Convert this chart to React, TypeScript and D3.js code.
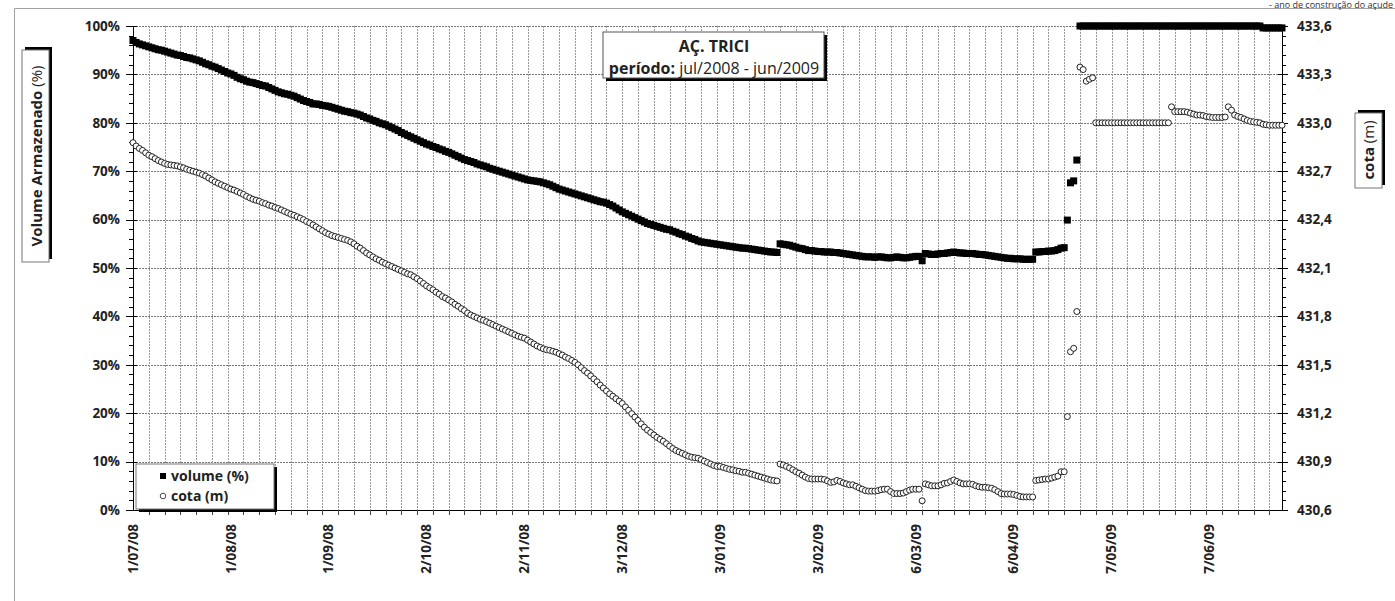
import React from "react";
import * as d3 from "d3";

const startDate = new Date(Date.UTC(2008, 6, 1));

// volume armazenado (%), daily from 1/07/08
const volume: number[] = [
  97.0,96.6,96.3,96.1,95.9,95.7,95.5,95.3,95.1,95.0,
  94.8,94.6,94.4,94.2,94.0,93.9,93.7,93.5,93.4,93.2,
  93.0,92.8,92.5,92.2,92.0,91.7,91.5,91.2,90.9,90.6,
  90.3,90.1,89.8,89.4,89.1,88.9,88.6,88.4,88.3,88.1,
  87.9,87.7,87.6,87.3,87.0,86.7,86.4,86.2,86.0,85.9,
  85.7,85.5,85.2,84.9,84.6,84.4,84.2,83.9,83.9,83.8,
  83.6,83.5,83.4,83.2,83.0,82.8,82.6,82.4,82.3,82.1,
  82.0,81.8,81.6,81.3,81.0,80.8,80.5,80.3,80.0,79.8,
  79.6,79.3,79.0,78.7,78.4,78.0,77.7,77.4,77.1,76.8,
  76.5,76.2,75.9,75.6,75.4,75.1,74.9,74.6,74.4,74.1,
  73.9,73.6,73.3,73.0,72.7,72.4,72.2,72.0,71.8,71.5,
  71.3,71.1,70.9,70.6,70.4,70.2,70.0,69.8,69.6,69.4,
  69.2,69.0,68.8,68.6,68.4,68.2,68.1,68.0,67.9,67.8,
  67.6,67.4,67.2,66.9,66.6,66.3,66.1,65.9,65.7,65.5,
  65.3,65.1,64.9,64.7,64.5,64.3,64.1,63.9,63.7,63.6,
  63.4,63.1,62.8,62.4,62.0,61.6,61.3,61.0,60.7,60.4,
  60.1,59.8,59.5,59.2,59.0,58.8,58.6,58.4,58.2,58.0,
  57.9,57.6,57.4,57.1,56.9,56.6,56.4,56.1,55.9,55.6,
  55.4,55.3,55.2,55.1,55.0,54.9,54.8,54.7,54.6,54.5,
  54.4,54.3,54.2,54.1,54.1,54.0,53.9,53.8,53.7,53.6,
  53.5,53.4,53.3,53.3,53.2,55.0,54.9,54.8,54.7,54.5,
  54.3,54.1,54.0,53.8,53.6,53.6,53.5,53.4,53.4,53.3,
  53.3,53.3,53.2,53.2,53.1,53.0,52.9,52.8,52.7,52.6,
  52.5,52.4,52.3,52.3,52.3,52.2,52.3,52.3,52.2,52.1,
  52.1,52.2,52.3,52.2,52.1,52.1,52.2,52.3,52.4,52.4,
  51.5,53.0,52.9,52.8,52.8,52.9,53.0,53.0,53.1,53.2,
  53.3,53.2,53.1,53.1,53.0,53.0,53.0,52.9,52.8,52.8,
  52.7,52.6,52.5,52.4,52.3,52.2,52.1,52.0,52.0,51.9,
  51.9,51.9,51.8,51.8,51.8,51.8,53.3,53.3,53.4,53.4,
  53.5,53.5,53.6,53.8,54.1,54.2,59.9,67.6,68.0,72.3,
  100,100,100,100,100,100,100,100,100,100,
  100,100,100,100,100,100,100,100,100,100,
  100,100,100,100,100,100,100,100,100,100,
  100,100,100,100,100,100,100,100,100,100,
  100,100,100,100,100,100,100,100,100,100,
  100,100,100,100,100,100,100,100,99.6,99.6,
  99.6,99.6,99.6,99.6,99.6,
];

// cota (m), daily from 1/07/08
const cota: number[] = [
  432.877,432.856,432.841,432.829,432.814,432.799,432.790,432.778,432.766,432.757,
  432.748,432.742,432.739,432.736,432.733,432.727,432.721,432.712,432.706,432.700,
  432.694,432.688,432.679,432.670,432.658,432.646,432.634,432.625,432.616,432.607,
  432.598,432.589,432.583,432.574,432.565,432.556,432.544,432.535,432.526,432.520,
  432.514,432.505,432.499,432.490,432.484,432.475,432.469,432.460,432.451,432.442,
  432.433,432.427,432.418,432.409,432.400,432.388,432.379,432.367,432.355,432.343,
  432.331,432.319,432.310,432.301,432.295,432.289,432.283,432.277,432.271,432.262,
  432.250,432.235,432.223,432.208,432.193,432.181,432.169,432.157,432.148,432.136,
  432.127,432.118,432.109,432.100,432.091,432.082,432.073,432.064,432.058,432.046,
  432.034,432.019,432.004,431.989,431.977,431.965,431.950,431.938,431.923,431.914,
  431.902,431.890,431.875,431.863,431.848,431.836,431.821,431.809,431.800,431.791,
  431.782,431.776,431.767,431.758,431.749,431.740,431.731,431.722,431.713,431.704,
  431.695,431.686,431.677,431.671,431.665,431.653,431.641,431.629,431.617,431.608,
  431.599,431.593,431.590,431.584,431.578,431.569,431.560,431.548,431.539,431.527,
  431.515,431.500,431.482,431.464,431.449,431.431,431.413,431.395,431.374,431.356,
  431.338,431.320,431.305,431.290,431.275,431.260,431.239,431.218,431.197,431.176,
  431.155,431.134,431.113,431.095,431.080,431.065,431.050,431.038,431.026,431.011,
  430.996,430.981,430.969,430.960,430.951,430.942,430.933,430.927,430.924,430.921,
  430.912,430.903,430.894,430.885,430.876,430.870,430.870,430.864,430.858,430.852,
  430.849,430.843,430.840,430.834,430.834,430.828,430.822,430.816,430.810,430.804,
  430.798,430.792,430.786,430.783,430.780,430.885,430.879,430.870,430.861,430.849,
  430.837,430.828,430.816,430.804,430.795,430.792,430.792,430.792,430.792,430.789,
  430.780,430.771,430.774,430.783,430.777,430.768,430.762,430.756,430.756,430.747,
  430.738,430.729,430.720,430.717,430.717,430.717,430.720,430.726,430.729,430.729,
  430.714,430.702,430.702,430.702,430.705,430.714,430.723,430.729,430.729,430.729,
  430.657,430.762,430.756,430.750,430.750,430.750,430.756,430.765,430.768,430.777,
  430.786,430.777,430.768,430.762,430.762,430.762,430.759,430.750,430.744,430.741,
  430.741,430.738,430.735,430.726,430.714,430.702,430.699,430.699,430.699,430.696,
  430.690,430.684,430.681,430.681,430.681,430.681,430.783,430.786,430.789,430.792,
  430.792,430.798,430.804,430.810,430.837,430.837,431.179,431.581,431.602,431.830,
  433.345,433.330,433.258,433.270,433.279,433.000,433.000,433.000,433.000,433.000,
  433.000,433.000,433.000,433.000,433.000,433.000,433.000,433.000,433.000,433.000,
  433.000,433.000,433.000,433.000,433.000,433.000,433.000,433.000,433.000,433.099,
  433.069,433.069,433.069,433.069,433.066,433.060,433.054,433.048,433.048,433.045,
  433.039,433.036,433.033,433.033,433.033,433.033,433.036,433.099,433.078,433.048,
  433.039,433.033,433.024,433.015,433.009,433.006,433.003,433.000,432.991,432.988,
  432.985,432.985,432.985,432.985,432.985,
];

const xTickLabels: string[] = [
  "1/07/08", "1/08/08", "1/09/08", "2/10/08", "2/11/08", "3/12/08",
  "3/01/09", "3/02/09", "6/03/09", "6/04/09", "7/05/09", "7/06/09",
];
const leftTicks: number[] = [0, 10, 20, 30, 40, 50, 60, 70, 80, 90, 100];
const rightTicks: number[] = [430.6, 430.9, 431.2, 431.5, 431.8, 432.1, 432.4, 432.7, 433.0, 433.3, 433.6];

const FONT = "'Open Sans', 'Noto Sans', 'DejaVu Sans', sans-serif";

export default function App() {
  const W = 1395;
  const H = 601;
  const left = 133, right = 1282, top = 26, bottom = 510;
  const dates = volume.map((_, i) => d3.utcDay.offset(startDate, i));
  const x = d3.scaleUtc().domain([dates[0], dates[dates.length - 1]]).range([left, right]);
  const yL = d3.scaleLinear().domain([0, 100]).range([bottom, top]);
  const yR = d3.scaleLinear().domain([430.6, 433.6]).range([bottom, top]);
  const parse = d3.utcParse("%d/%m/%y");
  const fmtR = (v: number) => d3.format(".1f")(v).replace(".", ",");
  const crisp = (v: number) => Math.round(v) + 0.5;

  const gridDays = d3.range(5, dates.length, 5).map((i) => dates[i]);
  const minorL = d3.range(0, 101, 2);
  const minorR = d3.range(0, 51).map((k) => 430.6 + k * 0.06);

  const sq = 7;

  return (
    <div style={{ position: "fixed", left: 0, top: 0, width: W, height: H, background: "#fff" }}>
      <svg width={W} height={H} style={{ display: "block" }} fontFamily={FONT}>
        <rect x={0} y={0} width={W} height={H} fill="#fff" />
        {/* outer frame */}
        <line x1={14.5} y1={8.5} x2={W} y2={8.5} stroke="#a0a0a0" />
        <line x1={14.5} y1={8.5} x2={14.5} y2={H} stroke="#a0a0a0" />
        <text x={1393} y={7.5} textAnchor="end" fontSize={9} fill="#333">- ano de construção do açude</text>

        {/* gridlines */}
        {leftTicks.map((t) => (
          <line key={"hg" + t} x1={left} x2={right} y1={crisp(yL(t))} y2={crisp(yL(t))} stroke="#777" strokeWidth={1} strokeDasharray="2 1" />
        ))}
        {gridDays.map((d, i) => (
          <line key={"vg" + i} x1={crisp(x(d))} x2={crisp(x(d))} y1={top} y2={bottom} stroke="#9a9a9a" strokeWidth={1} strokeDasharray="2 1" />
        ))}

        {/* axes */}
        <line x1={left + 0.5} x2={left + 0.5} y1={top} y2={bottom} stroke="#000" />
        <line x1={right + 0.5} x2={right + 0.5} y1={top} y2={bottom} stroke="#000" />
        <line x1={left} x2={right} y1={bottom + 0.5} y2={bottom + 0.5} stroke="#000" strokeWidth={1.2} />
        {minorL.map((t) => (
          <line key={"ml" + t} x1={left - 4} x2={left} y1={crisp(yL(t))} y2={crisp(yL(t))} stroke="#000" />
        ))}
        {leftTicks.map((t) => (
          <g key={"lt" + t}>
            <line x1={left - 7} x2={left + 4} y1={crisp(yL(t))} y2={crisp(yL(t))} stroke="#000" />
            <text x={120} y={yL(t)} dy="0.35em" textAnchor="end" fontSize={13.5} fontWeight="bold" fill="#222">{t + "%"}</text>
          </g>
        ))}
        {minorR.map((t, i) => (
          <line key={"mr" + i} x1={right} x2={right + 4} y1={crisp(yR(t))} y2={crisp(yR(t))} stroke="#000" />
        ))}
        {rightTicks.map((t) => (
          <g key={"rt" + t}>
            <line x1={right - 4} x2={right + 6} y1={crisp(yR(t))} y2={crisp(yR(t))} stroke="#000" />
            <text x={1297} y={yR(t)} dy="0.35em" textAnchor="start" fontSize={13.5} fontWeight="bold" fill="#222">{fmtR(t)}</text>
          </g>
        ))}
        {gridDays.map((d, i) => (
          <line key={"xt" + i} x1={crisp(x(d))} x2={crisp(x(d))} y1={bottom} y2={bottom + 5} stroke="#444" />
        ))}
        {xTickLabels.map((lab) => {
          const px = x(parse(lab) as Date);
          return (
            <text key={lab} transform={`translate(${px},524) rotate(-90)`} dy="0.35em" textAnchor="end" fontSize={13.5} fontWeight="bold" fill="#222">{lab}</text>
          );
        })}

        {/* cota series */}
        {cota.map((c, i) => (
          <circle key={"c" + i} cx={x(dates[i])} cy={yR(c)} r={3} fill="#fff" stroke="#222" strokeWidth={1} />
        ))}
        {/* volume series */}
        {volume.map((v, i) => (
          <rect key={"v" + i} x={x(dates[i]) - sq / 2} y={yL(v) - sq / 2} width={sq} height={sq} fill="#000" />
        ))}

        {/* title box */}
        <rect x={606} y={35} width={221} height={46} fill="#000" />
        <rect x={603} y={32} width={221} height={46} fill="#fff" stroke="#555" strokeWidth={1} />
        <text x={714} y={52} textAnchor="middle" fontSize={16} fontWeight="bold" fill="#222">AÇ. TRICI</text>
        <text x={714} y={74} textAnchor="middle" fontSize={16} fill="#222">
          <tspan fontWeight="bold">período:</tspan> jul/2008 - jun/2009
        </text>

        {/* left axis title */}
        <rect x={25} y={47} width={27} height={212} fill="#000" />
        <rect x={22} y={50} width={27} height={212} fill="#fff" stroke="#777" strokeWidth={1} />
        <text transform="translate(37,156) rotate(-90)" dy="0.35em" textAnchor="middle" fontSize={15} fill="#222">
          <tspan fontWeight="bold">Volume Armazenado</tspan> (%)
        </text>

        {/* right axis title */}
        <rect x={1358} y={110} width={27} height={75} fill="#000" />
        <rect x={1355} y={113} width={27} height={75} fill="#fff" stroke="#777" strokeWidth={1} />
        <text transform="translate(1369,150) rotate(-90)" dy="0.35em" textAnchor="middle" fontSize={15} fill="#222">
          <tspan fontWeight="bold">cota</tspan> (m)
        </text>

        {/* legend */}
        <rect x={139} y={467} width={138} height={45} fill="#000" />
        <rect x={136} y={464} width={138} height={45} fill="#fff" stroke="#777" strokeWidth={1} />
        <rect x={160} y={473} width={6} height={6} fill="#000" />
        <text x={171} y={481} fontSize={14} fontWeight="bold" fill="#222">volume (%)</text>
        <circle cx={163} cy={496} r={2.8} fill="#fff" stroke="#333" strokeWidth={0.9} />
        <text x={171} y={501} fontSize={14} fontWeight="bold" fill="#222">cota (m)</text>
      </svg>
    </div>
  );
}
